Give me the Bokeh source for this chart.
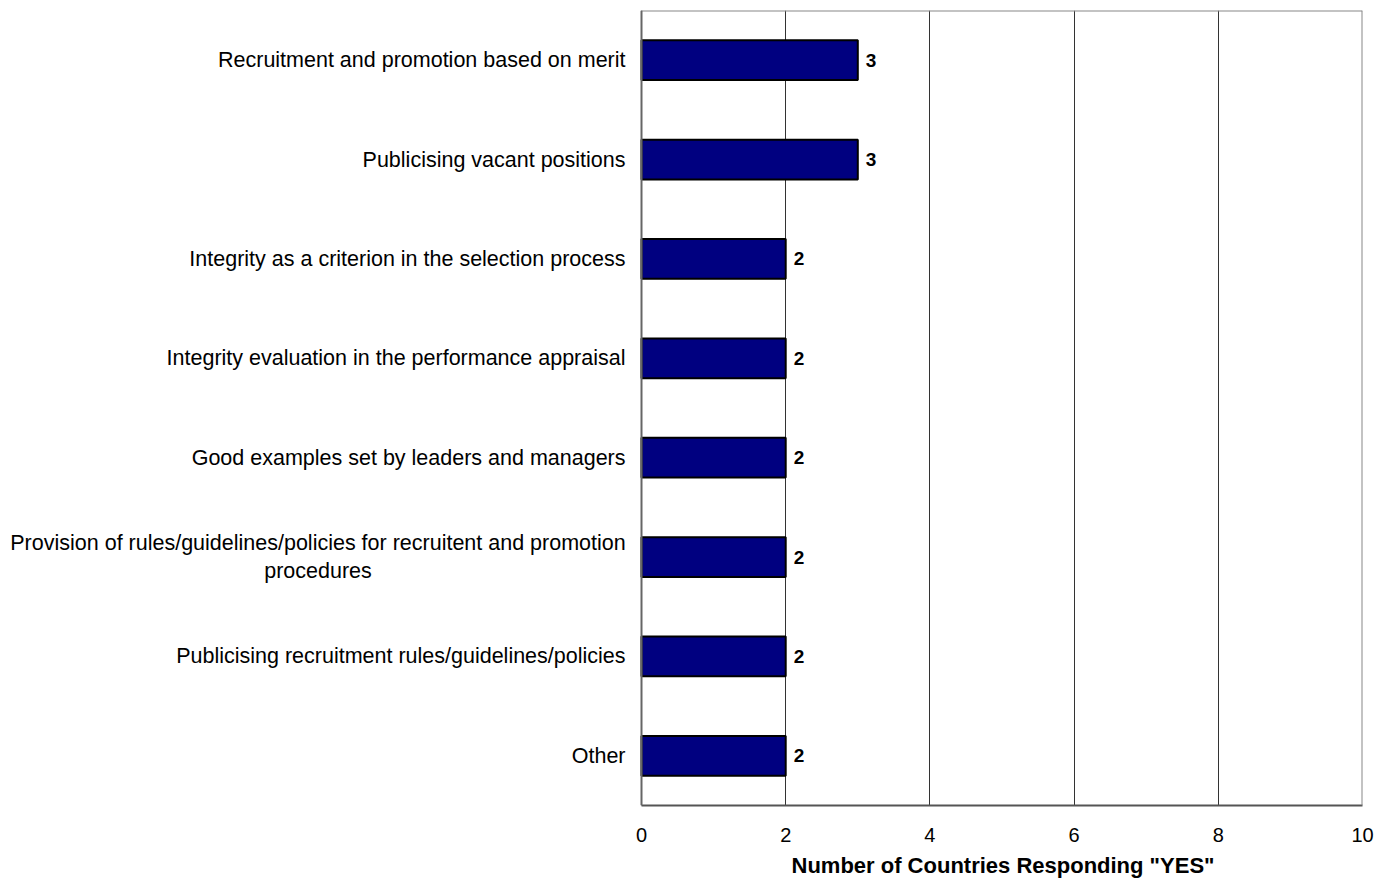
from bokeh.plotting import figure
from bokeh.models import Range1d, ColumnDataSource, FixedTicker, Span, Title
from bokeh.core.properties import value
from bokeh.embed import file_html
from bokeh.resources import INLINE

categories = [
    "Recruitment and promotion based on merit",
    "Publicising vacant positions",
    "Integrity as a criterion in the selection process",
    "Integrity evaluation in the performance appraisal",
    "Good examples set by leaders and managers",
    "Provision of rules/guidelines/policies for recruitent and promotion\nprocedures",
    "Publicising recruitment rules/guidelines/policies",
    "Other",
]
counts = [3, 3, 2, 2, 2, 2, 2, 2]
x_ticks = [0, 2, 4, 6, 8, 10]
x_label = 'Number of Countries Responding "YES"'

FONT = "Liberation Sans"

# layout (pixels)
W, H = 1376, 886
AXIS_PX = 641          # where value 0 sits
RIGHT_BORDER = 14
TOP_BORDER = 10
BOTTOM_BORDER = 81
TITLE_LEFT_PX = 791    # left edge of the axis title

n = len(categories)
xmax = x_ticks[-1]
frame_w = W - RIGHT_BORDER
# the frame also holds the category-label area left of 0
xmin = -xmax * AXIS_PX / (frame_w - AXIS_PX)

ypos = [n - 1 - i + 0.5 for i in range(n)]  # first category on top
src = ColumnDataSource(dict(y=ypos, val=counts, lab=[str(v) for v in counts]))

single = [(c, y) for c, y in zip(categories, ypos) if "\n" not in c]
multi = [(c, y) for c, y in zip(categories, ypos) if "\n" in c]
lab_single = ColumnDataSource(dict(t=[c for c, _ in single], y=[y for _, y in single]))
lab_multi = ColumnDataSource(dict(t=[c for c, _ in multi], y=[y for _, y in multi]))

p = figure(
    width=W, height=H,
    y_range=Range1d(0, n),
    x_range=Range1d(xmin, xmax),
    y_axis_location=None,
    output_backend="svg", toolbar_location=None,
    min_border_left=0, min_border_right=RIGHT_BORDER,
    min_border_top=TOP_BORDER, min_border_bottom=BOTTOM_BORDER,
)

# grid
p.xgrid.grid_line_color = "#333333"
p.xgrid.grid_line_width = 1
p.ygrid.grid_line_color = None
p.outline_line_color = None

# plot-area border: top and right grey, left axis line
p.segment(x0=[x_ticks[0]], x1=[xmax], y0=[n], y1=[n], line_color="#888888", line_width=2)
p.add_layout(Span(location=xmax, dimension="height", line_color="#888888", line_width=2))
p.add_layout(Span(location=x_ticks[0], dimension="height", line_color="#666666", line_width=2))

p.hbar(y="y", left=0, right="val", height=0.4, source=src,
       fill_color="#000080", line_color="black", line_width=2)
p.text(x="val", y="y", text="lab", source=src, x_offset=8,
       text_baseline="middle", text_align="left",
       text_font=value(FONT), text_font_size="19px", text_font_style="bold",
       text_color="black")

# category labels
p.text(x=0, y="y", text="t", source=lab_single, x_offset=-16,
       text_align="right", text_baseline="middle",
       text_font=value(FONT), text_font_size="21.5px", text_color="black")
p.text(x=0, y="y", text="t", source=lab_multi, x_offset=-323.5,
       text_align="center", text_baseline="middle", text_line_height=1.2,
       text_font=value(FONT), text_font_size="21.5px", text_color="black")

p.xaxis.ticker = FixedTicker(ticks=x_ticks)
p.xaxis.bounds = (x_ticks[0], xmax)
p.xaxis.major_label_text_font = FONT
p.xaxis.major_label_text_font_size = "20px"
p.xaxis.major_label_text_color = "black"
p.xaxis.major_label_standoff = 16
p.xaxis.major_tick_line_color = None
p.xaxis.minor_tick_line_color = None
p.xaxis.axis_line_color = "#555555"
p.xaxis.axis_line_width = 2

# axis title centred under the 0..10 scale
p.add_layout(Title(text=x_label, align="left", offset=TITLE_LEFT_PX,
                   text_font=FONT, text_font_size="22px", text_font_style="bold",
                   text_color="black", standoff=12), "below")

p.background_fill_color = "white"
p.border_fill_color = "white"

open("out.html", "w").write(file_html(p, INLINE))
